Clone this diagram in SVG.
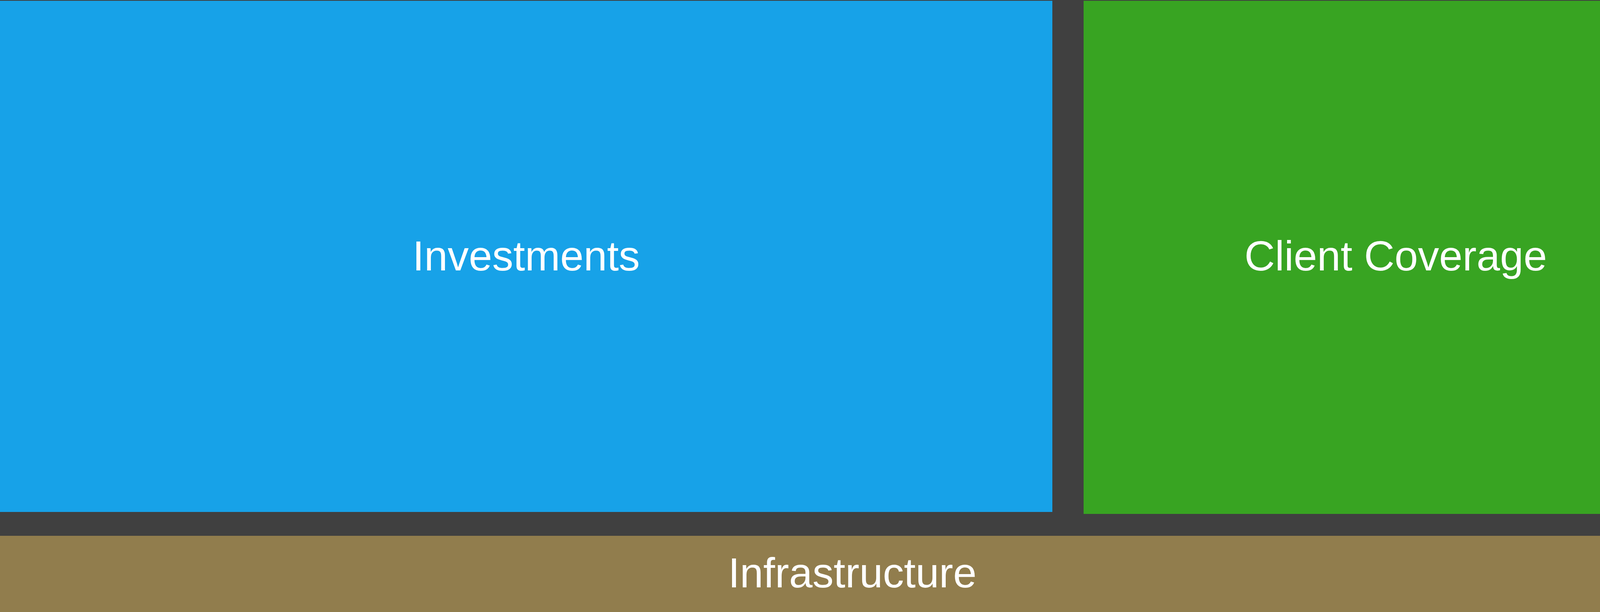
<svg xmlns="http://www.w3.org/2000/svg" width="4365" height="1566" viewBox="0 0 4365 1566">
<style>
.lbl{font-family:"Liberation Sans",Arial,sans-serif;font-size:108px;fill:#ffffff;text-anchor:middle}
</style>
<rect x="0" y="0" width="4365" height="1566" fill="#404040"/>
<g id="investments">
<rect x="0" y="2" width="2694" height="1308" fill="#17A2E8"/>
<text class="lbl" x="1347" y="692">Investments</text>
</g>
<g id="client-coverage">
<rect x="2774" y="2" width="1591" height="1313" fill="#38A422"/>
<text class="lbl" x="3573" y="692">Client Coverage</text>
</g>
<g id="infrastructure">
<rect x="0" y="1371" width="4365" height="195" fill="#917D4D"/>
<text class="lbl" x="2182" y="1503">Infrastructure</text>
</g>
<g id="connectors"/>
</svg>
